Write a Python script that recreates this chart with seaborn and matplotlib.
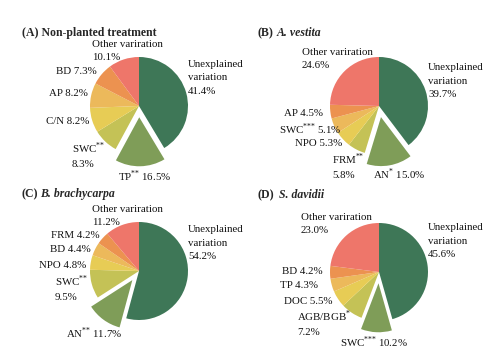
import matplotlib
matplotlib.use('Agg')
import matplotlib.pyplot as plt
import seaborn as sns

sns.set_theme(style='white')
plt.rcParams['font.family'] = ['Liberation Serif', 'DejaVu Serif']
plt.rcParams['mathtext.fontset'] = 'custom'
plt.rcParams['mathtext.rm'] = 'Liberation Serif'

W, H = 489, 356

# slice order: unexplained, exploded factor, 4 others, other variation (clockwise from top)
labels_a = ['Unexplained\nvariation\n41.4%', 'TP$^{{*}{*}}$ 16.5%', 'SWC$^{{*}{*}}$\n8.3%', 'C/N 8.2%', 'AP 8.2%', 'BD 7.3%', 'Other variration\n10.1%']
values_a = [41.4, 16.5, 8.3, 8.2, 8.2, 7.3, 10.1]

labels_b = ['Unexplained\nvariation\n39.7%', 'AN$^{{*}}$ 15.0%', 'FRM$^{{*}{*}}$\n5.8%', 'NPO 5.3%', 'SWC$^{{*}{*}{*}}$ 5.1%', 'AP 4.5%', 'Other variration\n24.6%']
values_b = [39.7, 15.0, 5.8, 5.3, 5.1, 4.5, 24.6]

labels_c = ['Unexplained\nvariation\n54.2%', 'AN$^{{*}{*}}$ 11.7%', 'SWC$^{{*}{*}}$\n9.5%', 'NPO 4.8%', 'BD 4.4%', 'FRM 4.2%', 'Other variration\n11.2%']
values_c = [54.2, 11.7, 9.5, 4.8, 4.4, 4.2, 11.2]

labels_d = ['Unexplained\nvariation\n45.6%', 'SWC$^{{*}{*}{*}}$ 10.2%', 'AGB/BGB$^{{*}}$\n7.2%', 'DOC 5.5%', 'TP 4.3%', 'BD 4.2%', 'Other variration\n23.0%']
values_d = [45.6, 10.2, 7.2, 5.5, 4.3, 4.2, 23.0]

colors = sns.color_palette(['#3e7757', '#7f9d58', '#c4c256', '#e7cc55', '#ecb95b', '#ec9250', '#ee766a'])

# panel layout: title prefix, italic name, title pos, pie centre, label positions (x, y, ha)
panels = [
    dict(vals=values_a, labs=labels_a, pre='(A) Non-planted treatment', name='', tx=22, ty=33, ix=0,
         c=(139, 106),
         pos=[(188, 78, 'left'), (118, 176, 'left'), (72, 155, 'left'), (89, 121, 'right'),
              (88, 93, 'right'), (97, 71, 'right'), (92, 51, 'left')]),
    dict(vals=values_b, labs=labels_b, pre='(B)', name='A. vestita', tx=257, ty=33, ix=277,
         c=(379, 106),
         pos=[(428, 81, 'left'), (373, 174, 'left'), (332, 166, 'left'), (342, 144, 'right'),
              (341, 129, 'right'), (323, 113, 'right'), (302, 59, 'left')]),
    dict(vals=values_c, labs=labels_c, pre='(C)', name='B. brachycarpa', tx=22, ty=194, ix=40,
         c=(139, 271),
         pos=[(188, 243, 'left'), (66, 333, 'left'), (55, 288, 'left'), (86, 265, 'right'),
              (91, 249, 'right'), (100, 235, 'right'), (92, 216, 'left')]),
    dict(vals=values_d, labs=labels_d, pre='(D)', name='S. davidii', tx=257, ty=195, ix=279,
         c=(379, 272),
         pos=[(428, 241, 'left'), (340, 342, 'left'), (297, 323, 'left'), (332, 302, 'right'),
              (318, 286, 'right'), (323, 271, 'right'), (301, 224, 'left')]),
]

R = 49
fig = plt.figure(figsize=(W / 100, H / 100), dpi=100)
ax = fig.add_axes([0, 0, 1, 1])

for p in panels:
    cx, cy = p['c']
    explode = [0, 0.23 * R, 0, 0, 0, 0, 0]
    ax.pie(p['vals'], colors=colors, startangle=90, counterclock=False,
           explode=explode, radius=R, center=(cx, H - cy), frame=True,
           wedgeprops=dict(linewidth=0))
    for lab, (x, y, ha) in zip(p['labs'], p['pos']):
        ax.text(x, H - y, lab, ha=ha, va='center', fontsize=7.8, color='#111111',
                linespacing=1.65)
    ax.text(p['tx'], H - p['ty'], p['pre'], fontsize=8.5, fontweight='bold', va='center')
    if p['name']:
        ax.text(p['ix'], H - p['ty'], p['name'], fontsize=8.5, fontweight='bold',
                style='italic', va='center')

ax.set_xlim(0, W)
ax.set_ylim(0, H)
ax.set_aspect('equal')
ax.axis('off')
fig.savefig('out.png', dpi=100)
